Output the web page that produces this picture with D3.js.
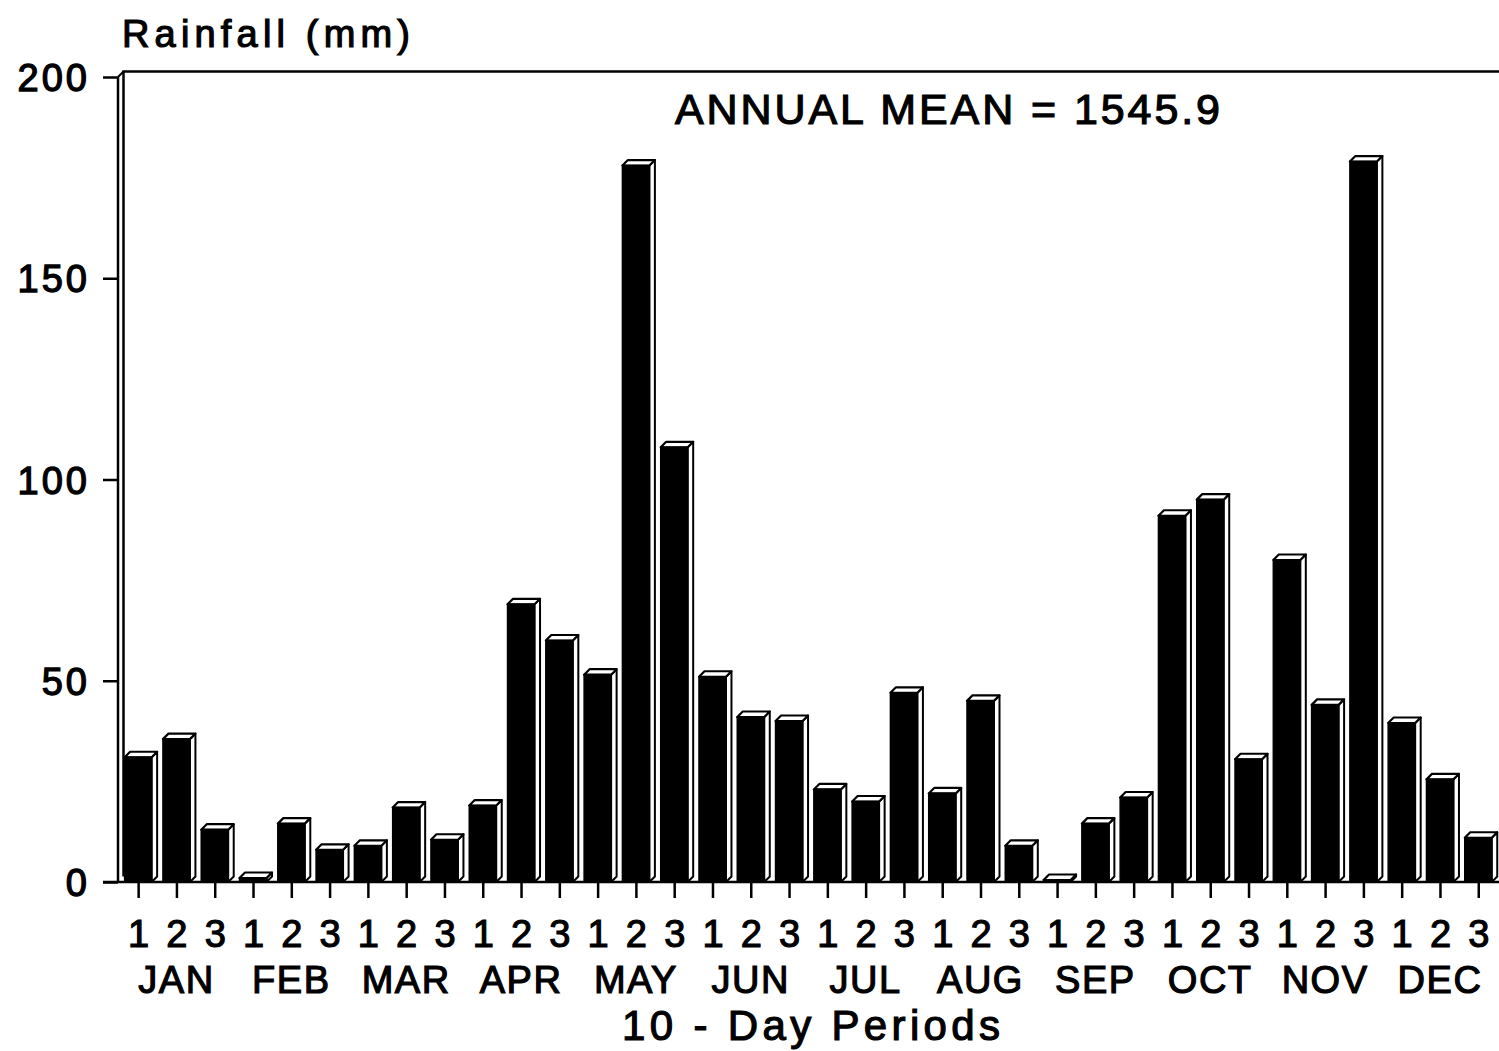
<!DOCTYPE html>
<html>
<head>
<meta charset="utf-8">
<script src="https://cdn.jsdelivr.net/npm/d3@7"></script>
<style>
  html, body { margin: 0; padding: 0; background: #fff; }
  svg { display: block; }
  text { font-family: "Liberation Sans", Arial, sans-serif; fill: #000; stroke: #000; stroke-width: 1.2px; }
</style>
</head>
<body>
<svg id="chart" width="1499" height="1051"></svg>
<script>
const months = ["JAN","FEB","MAR","APR","MAY","JUN","JUL","AUG","SEP","OCT","NOV","DEC"];
const dekads = ["1","2","3"];
const rainfall = [
  31, 35.5, 13,
  1, 14.5, 8,
  9, 18.5, 10.5,
  19, 69, 60,
  51.5, 178, 108,
  51, 41, 40,
  23, 20, 47,
  22, 45, 9,
  0.5, 14.5, 21,
  91, 95, 30.5,
  80, 44, 179,
  39.5, 25.5, 11
];
const yTicks = [0, 50, 100, 150, 200];
const yTitle = "Rainfall (mm)";
const xTitle = "10 - Day Periods";
const note = "ANNUAL MEAN = 1545.9";

const svg = d3.select("#chart");
const idx = d3.range(rainfall.length);

const x = d3.scalePoint().domain(idx).range([119, 1497.4]).padding(0.5);
const step = x.step();
const y = d3.scaleLinear().domain([0, 200]).range([882, 77]);

const base = y(0);
const depth = 5.5;
const fw = step * 0.705;
const axisX = 118;

// back wall & frame
svg.append("path")
  .attr("d", `M${axisX + depth},${base - depth} L${axisX + depth},${y(200) - depth} L1499,${y(200) - depth}`)
  .attr("fill", "none").attr("stroke", "#000").attr("stroke-width", 2.5);
svg.append("line")
  .attr("x1", axisX).attr("x2", axisX + depth)
  .attr("y1", y(200)).attr("y2", y(200) - depth)
  .attr("stroke", "#000").attr("stroke-width", 2);

// Y axis
const yAxis = d3.axisLeft(y).tickValues(yTicks).tickSize(15).tickPadding(13).tickFormat(d3.format("d"));
const gy = svg.append("g").attr("transform", `translate(${axisX},0)`).call(yAxis);
gy.select(".domain").attr("stroke-width", 2.5).attr("d", `M0,${y(200)}V${base}`);
gy.selectAll(".tick line").attr("stroke-width", 2.5);
gy.selectAll(".tick text")
  .attr("font-size", 38).attr("dy", "0.36em")
  .attr("font-family", "Liberation Sans, Arial, sans-serif")
  .style("stroke-width", "1.3px")
  .attr("letter-spacing", 3);

// bars
const bars = svg.append("g");
idx.forEach(i => {
  const cx = x(i);
  const x0 = cx - fw / 2, x1 = cx + fw / 2;
  const yt = y(rainfall[i]);
  const g = bars.append("g");
  g.append("path")
    .attr("d", `M${x1},${yt} L${x1 + depth},${yt - depth} L${x1 + depth},${base - depth} L${x1},${base} Z`)
    .attr("fill", "#fff").attr("stroke", "#000").attr("stroke-width", 2).attr("stroke-linejoin", "round");
  g.append("path")
    .attr("d", `M${x0},${yt} L${x1},${yt} L${x1 + depth},${yt - depth} L${x0 + depth},${yt - depth} Z`)
    .attr("fill", "#fff").attr("stroke", "#000").attr("stroke-width", 2.2).attr("stroke-linejoin", "round");
  g.append("rect")
    .attr("x", x0).attr("y", yt).attr("width", fw).attr("height", base - yt)
    .attr("fill", "#000").attr("stroke", "#000").attr("stroke-width", 1.5);
});

// X axis line and ticks
const xAxis = d3.axisBottom(x).tickSize(16).tickPadding(22).tickFormat(i => dekads[i % 3]);
const gx = svg.append("g").attr("transform", `translate(0,${base})`).call(xAxis);
gx.select(".domain").attr("stroke-width", 2.5).attr("d", `M103,0H1499`);
gx.selectAll(".tick line").attr("stroke-width", 2.5);
gx.selectAll(".tick text")
  .attr("font-size", 38).attr("dy", "0.71em")
  .attr("font-family", "Liberation Sans, Arial, sans-serif");

// month labels
svg.append("g").selectAll("text").data(months).join("text")
  .attr("x", (m, k) => x(k * 3 + 1))
  .attr("y", 993)
  .attr("text-anchor", "middle")
  .attr("font-size", 38)
  .attr("letter-spacing", 1.5)
  .text(m => m);

// titles
svg.append("text")
  .attr("x", 122).attr("y", 47)
  .attr("font-size", 38)
  .attr("textLength", 288).attr("lengthAdjust", "spacing")
  .text(yTitle);

svg.append("text")
  .attr("x", 622).attr("y", 1040)
  .attr("font-size", 42)
  .attr("textLength", 378).attr("lengthAdjust", "spacing")
  .text(xTitle);

svg.append("text")
  .attr("x", 675).attr("y", 124)
  .attr("font-size", 43)
  .attr("textLength", 545).attr("lengthAdjust", "spacing")
  .text(note);
</script>
</body>
</html>
